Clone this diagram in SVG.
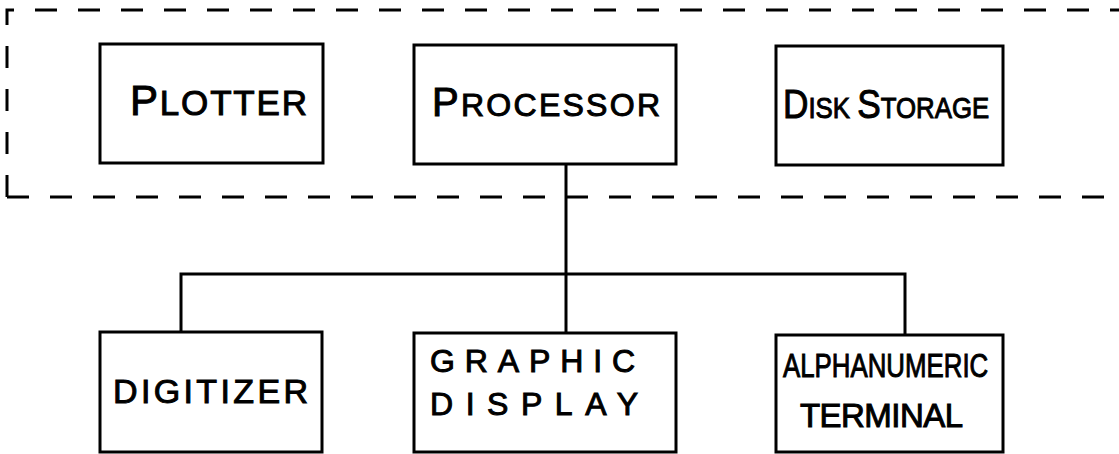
<svg xmlns="http://www.w3.org/2000/svg" width="1119" height="454" viewBox="0 0 1119 454">
<style>
.box{fill:none;stroke:#000;stroke-width:3}
.dash{fill:none;stroke:#000;stroke-width:3;stroke-dasharray:22 21}
.wire{fill:none;stroke:#000;stroke-width:3}
text{font-family:"Liberation Sans","DejaVu Sans",sans-serif;fill:#000;stroke:#000;stroke-width:1;font-size:34px}
</style>
<rect width="1119" height="454" fill="#fff"/>
<g id="boundary">
<path class="dash" d="M7,197 V10 H1119"/>
<path class="dash" d="M7,197 H1119"/>
</g>
<g id="connectors">
<path class="wire" d="M566,164 V333"/>
<path class="wire" d="M181,332 V274 H905 V335"/>
</g>
<g id="plotter">
<rect class="box" x="100" y="44" width="223" height="119"/>
<text x="130" y="115" textLength="177" lengthAdjust="spacing" style="font-size:35px"><tspan style="font-size:42px">P</tspan>LOTTER</text>
</g>
<g id="processor">
<rect class="box" x="414" y="45" width="262" height="119"/>
<text x="432" y="116" textLength="228" lengthAdjust="spacing" style="font-size:32px"><tspan style="font-size:40px">P</tspan>ROCESSOR</text>
</g>
<g id="disk-storage">
<rect class="box" x="776" y="46" width="227" height="119"/>
<text transform="translate(783,118) scale(0.86,1)" x="0" y="0" style="font-size:30px"><tspan style="font-size:41px">D</tspan>ISK <tspan style="font-size:41px">S</tspan>TORAGE</text>
</g>
<g id="digitizer">
<rect class="box" x="100" y="332" width="222" height="120"/>
<text x="113" y="403" textLength="195" lengthAdjust="spacing">DIGITIZER</text>
</g>
<g id="graphic-display">
<rect class="box" x="414" y="333" width="262" height="119"/>
<text x="430" y="372" textLength="205" lengthAdjust="spacing" style="font-size:32px">GRAPHIC</text>
<text x="430" y="415" textLength="208" lengthAdjust="spacing" style="font-size:32px">DISPLAY</text>
</g>
<g id="alphanumeric-terminal">
<rect class="box" x="776" y="335" width="227" height="117"/>
<text transform="translate(783,377) scale(0.76,1)" x="0" y="0" style="font-size:34px">ALPHANUMERIC</text>
<text x="800" y="427" textLength="163" lengthAdjust="spacing" style="font-size:33px">TERMINAL</text>
</g>
</svg>
